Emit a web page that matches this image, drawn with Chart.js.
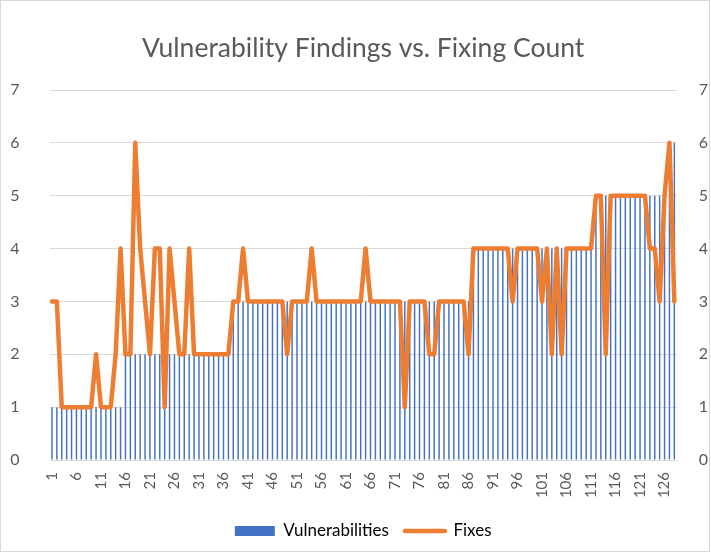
<!DOCTYPE html>
<html>
<head>
<meta charset="utf-8">
<script src="https://cdn.jsdelivr.net/npm/chart.js@4.4.0/dist/chart.umd.min.js"></script>
<style>
  html, body { margin: 0; padding: 0; background: #fff; }
  canvas { display: block; }
</style>
</head>
<body>
<canvas id="chart" width="711" height="553"></canvas>
<script>
// data
const categories = [];
for (let i = 1; i <= 128; i++) categories.push(String(i));

const vulnerabilities = [
  1, 1, 1, 1, 1, 1, 1, 1, 1, 1,
  1, 1, 1, 1, 1, 2, 2, 2, 2, 2,
  2, 2, 2, 2, 2, 2, 2, 2, 2, 2,
  2, 2, 2, 2, 2, 2, 2, 3, 3, 3,
  3, 3, 3, 3, 3, 3, 3, 3, 3, 3,
  3, 3, 3, 3, 3, 3, 3, 3, 3, 3,
  3, 3, 3, 3, 3, 3, 3, 3, 3, 3,
  3, 3, 3, 3, 3, 3, 3, 3, 3, 3,
  3, 3, 3, 3, 3, 3, 4, 4, 4, 4,
  4, 4, 4, 4, 4, 4, 4, 4, 4, 4,
  4, 4, 4, 4, 4, 4, 4, 4, 4, 4,
  4, 5, 5, 5, 5, 5, 5, 5, 5, 5,
  5, 5, 5, 5, 5, 5, 5, 6
];

const fixes = [
  3, 3, 1, 1, 1, 1, 1, 1, 1, 2,
  1, 1, 1, 2, 4, 2, 2, 6, 4, 3,
  2, 4, 4, 1, 4, 3, 2, 2, 4, 2,
  2, 2, 2, 2, 2, 2, 2, 3, 3, 4,
  3, 3, 3, 3, 3, 3, 3, 3, 2, 3,
  3, 3, 3, 4, 3, 3, 3, 3, 3, 3,
  3, 3, 3, 3, 4, 3, 3, 3, 3, 3,
  3, 3, 1, 3, 3, 3, 3, 2, 2, 3,
  3, 3, 3, 3, 3, 2, 4, 4, 4, 4,
  4, 4, 4, 4, 3, 4, 4, 4, 4, 4,
  3, 4, 2, 4, 2, 4, 4, 4, 4, 4,
  4, 5, 5, 2, 5, 5, 5, 5, 5, 5,
  5, 5, 4, 4, 3, 5, 6, 3
];

const yTicks = [0, 1, 2, 3, 4, 5, 6, 7];

const BLUE = '#4472C4';
const ORANGE = '#ED7D31';
const TEXT = '#595959';
const GRID = '#d9d9d9';
const FONT = 'Lato';

const frame = {
  id: 'frame',
  beforeDraw(chart) {
    const ctx = chart.ctx;
    ctx.save();
    ctx.fillStyle = '#fff';
    ctx.fillRect(0, 0, chart.width, chart.height);
    ctx.restore();
  },
  afterDraw(chart) {
    const ctx = chart.ctx;
    ctx.save();
    ctx.strokeStyle = GRID;
    ctx.lineWidth = 1;
    ctx.strokeRect(0.5, 0.5, chart.width - 2, chart.height - 2);
    ctx.restore();
  }
};

new Chart(document.getElementById('chart'), {
  data: {
    labels: categories,
    datasets: [
      {
        type: 'bar',
        label: 'Vulnerabilities',
        data: vulnerabilities,
        backgroundColor: BLUE,
        borderWidth: 0,
        barPercentage: 0.3,
        categoryPercentage: 1,
        yAxisID: 'y',
        order: 1
      },
      {
        type: 'line',
        label: 'Fixes',
        data: fixes,
        borderColor: ORANGE,
        backgroundColor: ORANGE,
        borderWidth: 4.5,
        borderJoinStyle: 'round',
        borderCapStyle: 'round',
        pointRadius: 0,
        tension: 0,
        yAxisID: 'y1',
        order: 0
      }
    ]
  },
  options: {
    responsive: false,
    animation: false,
    layout: { padding: { left: 0, right: 0, top: 0, bottom: 3.5 } },
    plugins: {
      tooltip: { enabled: false },
      title: {
        display: true,
        text: 'Vulnerability Findings vs. Fixing Count',
        color: TEXT,
        fullSize: false,
        font: { family: FONT, size: 26.5, weight: 'normal' },
        padding: { top: 32.1, bottom: 26.1 }
      },
      legend: {
        position: 'bottom',
        fullSize: false,
        labels: {
          color: TEXT,
          font: { family: FONT, size: 17 },
          usePointStyle: true,
          pointStyleWidth: 40,
          boxWidth: 40,
          boxHeight: 10,
          padding: 16,
          generateLabels: () => [
            { text: 'Vulnerabilities', fillStyle: BLUE, strokeStyle: BLUE, lineWidth: 0, pointStyle: 'rect', datasetIndex: 0, hidden: false },
            { text: 'Fixes', fillStyle: ORANGE, strokeStyle: ORANGE, lineWidth: 4.5, lineCap: 'round', pointStyle: 'line', datasetIndex: 1, hidden: false }
          ]
        }
      }
    },
    scales: {
      x: {
        offset: true,
        grid: { display: false, drawTicks: false },
        border: { display: false },
        ticks: {
          autoSkip: false,
          maxRotation: 90,
          minRotation: 90,
          padding: 12,
          color: TEXT,
          font: { family: FONT, size: 15 },
          callback: function (value, index) {
            return index % 5 === 0 ? categories[index] : '';
          }
        },
        afterFit: s => { s.height = 46.5; }
      },
      y: {
        position: 'left',
        min: 0,
        max: 7,
        afterBuildTicks: s => { s.ticks = yTicks.map(v => ({ value: v })); },
        grid: { color: GRID, lineWidth: 1, drawTicks: false },
        border: { display: false },
        ticks: { padding: 30, color: TEXT, font: { family: FONT, size: 16 } },
        afterFit: s => { s.width = 49.5; }
      },
      y1: {
        position: 'right',
        min: 0,
        max: 7,
        afterBuildTicks: s => { s.ticks = yTicks.map(v => ({ value: v })); },
        grid: { display: false, drawTicks: false },
        border: { display: false },
        ticks: { padding: 22, color: TEXT, font: { family: FONT, size: 16 } },
        afterFit: s => { s.width = 34.2; }
      }
    }
  },
  plugins: [frame]
});
</script>
</body>
</html>
